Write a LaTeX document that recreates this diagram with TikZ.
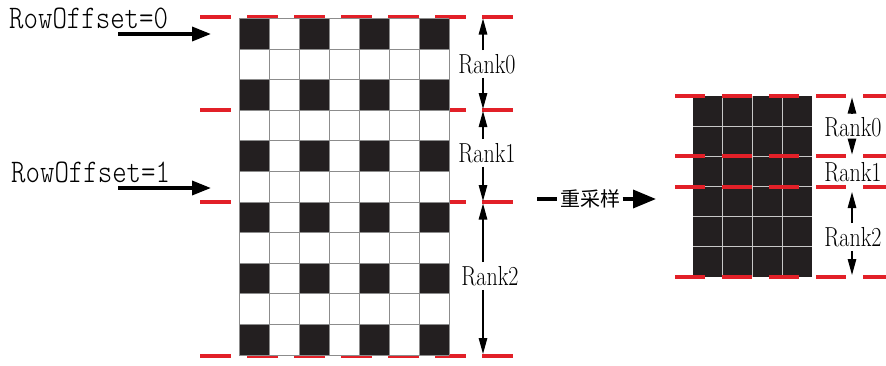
\documentclass[tikz,border=0pt]{standalone}
\usepackage{fontspec}
\newfontfamily\cjk{Noto Sans CJK SC}
\newfontfamily\lml{lmmonolt10-regular.otf}
\usetikzlibrary{arrows.meta}
\definecolor{rd}{RGB}{226,32,40}
\definecolor{blk}{RGB}{35,31,32}
\newcommand{\rkt}[1]{\scalebox{1}[1.25]{\fontsize{22}{22}\selectfont #1}}
\newcommand{\rot}[1]{\scalebox{1}[1.2]{\fontsize{27.5}{28}\lml #1}}
\begin{document}
\begin{tikzpicture}[x=1pt,y=-1pt,
  redl/.style={draw=rd, line width=4pt, dash pattern=on 31pt off 16pt},
  redr/.style={draw=rd, line width=4pt, dash pattern=on 30pt off 17pt},
  gridl/.style={draw=black!45, line width=0.9pt},
  gridr/.style={draw=black!22, line width=1.1pt},
  rklab/.style={inner sep=4pt, fill=white},
  rkarr/.style={draw=black, line width=1.2pt, -{Triangle[length=16pt,width=8.5pt]}},
  bigarr/.style={draw=black, line width=3.5pt, -{Triangle[length=19pt,width=14pt]}},
  offlab/.style={inner sep=0pt, anchor=west}
]
\useasboundingbox (0,0) rectangle (886,365);

% ---------- left grid ----------
\foreach \y in {17,110,202,356} \draw[redl] (200,\y) -- (513,\y);
\node[inner sep=0pt, minimum width=210pt, minimum height=336.6pt, fill=white, anchor=north west] (lgrid) at (239,18.5) {};
\foreach \r in {0,2,...,10} \foreach \c in {0,2,4,6}
  \fill[blk] (239+30*\c, 18.5+30.6*\r) rectangle ++(30,30.6);
\foreach \c in {0,...,7} \draw[gridl] (239+30*\c,18.5) -- (239+30*\c,355.1);
\foreach \r in {0,...,11} \draw[gridl] (239,18.5+30.6*\r) -- (449,18.5+30.6*\r);

% left rank labels
\coordinate (L0) at (483,18.5);
\coordinate (L1a) at (483,109);
\coordinate (L1b) at (483,111);
\coordinate (L2a) at (483,201);
\coordinate (L2b) at (483,203.5);
\coordinate (L3) at (483,354);
\node[rklab] (lr0) at (487,64) {\rkt{Rank0}};
\node[rklab] (lr1) at (487,153) {\rkt{Rank1}};
\node[rklab] (lr2) at (490,276) {\rkt{Rank2}};
\draw[rkarr] (lr0.north -| L0) -- (L0);
\draw[rkarr] (lr0.south -| L0) -- (L1a);
\draw[rkarr] (lr1.north -| L0) -- (L1b);
\draw[rkarr] (lr1.south -| L0) -- (L2a);
\draw[rkarr] (lr2.north -| L0) -- (L2b);
\draw[rkarr] (lr2.south -| L0) -- (L3);

% RowOffset labels and arrows
\node[offlab] (ro0) at (9,18) {\rot{RowOffset=0}};
\node[offlab] (ro1) at (11,172) {\rot{RowOffset=1}};
\coordinate (a0s) at (118,34);
\coordinate (a0e) at (211,34);
\coordinate (a1s) at (118,188);
\coordinate (a1e) at (211,188);
\draw[bigarr] (a0s) -- (a0e);
\draw[bigarr] (a1s) -- (a1e);

% ---------- middle arrow ----------
\coordinate (ms) at (537,199);
\coordinate (me) at (656,199);
\node[inner sep=2.5pt, font=\cjk\fontsize{20}{20}\selectfont] (mt) at (590,199) {重采样};
\draw[black, line width=4pt] (ms) -- (mt.west);
\draw[black, line width=3.5pt, -{Triangle[length=23pt,width=18pt]}] (mt.east) -- (me);

% ---------- right grid ----------
\node[inner sep=0pt, minimum width=119pt, minimum height=181pt, fill=blk, anchor=north west] (rgrid) at (693,96) {};
\foreach \c in {1,2,3} \draw[gridr] (693+29.75*\c,96) -- (693+29.75*\c,277);
\foreach \r in {1,...,5} \draw[gridr] (693,96+30.17*\r) -- (812,96+30.17*\r);
\foreach \y in {96,156,187,277} \draw[redr] (675,\y) -- (890,\y);

% right rank labels
\coordinate (R0) at (852,97.5);
\coordinate (R1) at (852,154.5);
\coordinate (R2) at (852,192);
\coordinate (R3) at (852,275);
\node[rklab, fill=none] (rr0) at (853,127) {\rkt{Rank0}};
\node[inner sep=0pt] (rr1) at (853,172) {\rkt{Rank1}};
\node[rklab, fill=none] (rr2) at (853,237) {\rkt{Rank2}};
\draw[rkarr] (rr0.north -| R0) -- (R0);
\draw[rkarr] (rr0.south -| R0) -- (R1);
\draw[rkarr] (rr2.north -| R0) -- (R2);
\draw[rkarr] (rr2.south -| R0) -- (R3);
\end{tikzpicture}
\end{document}
